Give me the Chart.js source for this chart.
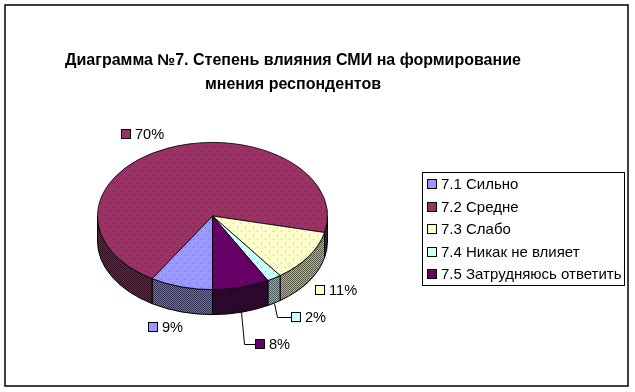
<!DOCTYPE html>
<html>
<head>
<meta charset="utf-8">
<title>Диаграмма №7</title>
<script src="https://cdn.jsdelivr.net/npm/chart.js@4"></script>
<style>
html, body { margin: 0; padding: 0; background: #fff; }
canvas { display: block; }
</style>
</head>
<body>
<canvas id="grafica" width="635" height="392"></canvas>
<script>
const categorias = ['7.1 Сильно', '7.2 Средне', '7.3 Слабо', '7.4 Никак не влияет', '7.5 Затрудняюсь ответить'];
const valores = [8.8, 69.8, 11.4, 2, 8];
const colores = ['#9999ff', '#993366', '#ffffcc', '#ccffff', '#660066'];
const etiquetas = ['9%', '70%', '11%', '2%', '8%'];
const titulo = ['Диаграмма №7. Степень влияния СМИ на формирование', 'мнения респондентов'];

// look of the old 3D pie
const squash = 0.64;
const profundidad = 25;
const fuente = '"Liberation Sans", Arial, sans-serif';

// label swatch offset from the rim point of each slice
const desplazamientos = [[-28, 40], [-42, -14], [12, 33], [22, 39], [19, 57]];
// slices that get a leader line
const conLinea = [false, false, false, true, true];

// dotted fill for the top of the pie
function patronPuntos(color) {
    const c = document.createElement('canvas');
    c.width = 8;
    c.height = 8;
    const g = c.getContext('2d');
    g.fillStyle = color;
    g.fillRect(0, 0, 8, 8);
    g.fillStyle = 'rgba(0,0,0,0.3)';
    g.fillRect(1, 1, 1, 1);
    g.fillRect(5, 5, 1, 1);
    const p = g.createPattern(c, 'repeat');
    p.setTransform(new DOMMatrix().scale(1, 1 / squash));
    return p;
}

// dithered fill for the wall, two darker shades of the slice colour
function patronLado(color) {
    const c = document.createElement('canvas');
    c.width = 2;
    c.height = 2;
    const g = c.getContext('2d');
    g.fillStyle = color;
    g.fillRect(0, 0, 2, 2);
    g.fillStyle = 'rgba(0,0,0,0.3)';
    g.fillRect(0, 0, 2, 2);
    g.fillStyle = 'rgba(0,0,0,0.5)';
    g.fillRect(0, 0, 1, 1);
    g.fillRect(1, 1, 1, 1);
    return g.createPattern(c, 'repeat');
}

const pie3d = {
    id: 'pie3d',
    beforeDatasetsDraw(chart) {
        const ctx = chart.ctx;
        const arcos = chart.getDatasetMeta(0).data;
        const { x: cx, y: cy, outerRadius: r } = arcos[0].getProps(['x', 'y', 'outerRadius'], true);
        const ry = r * squash;

        // front wall, only the part of each slice that faces down
        arcos.forEach((arco, i) => {
            const { startAngle, endAngle } = arco.getProps(['startAngle', 'endAngle'], true);
            [0, 2 * Math.PI].forEach(base => {
                const a0 = Math.max(startAngle, base);
                const a1 = Math.min(endAngle, base + Math.PI);
                if (a1 <= a0) return;
                ctx.beginPath();
                ctx.ellipse(cx, cy, r, ry, 0, a0, a1);
                ctx.ellipse(cx, cy + profundidad, r, ry, 0, a1, a0, true);
                ctx.closePath();
                ctx.fillStyle = patronLado(colores[i]);
                ctx.fill();
                ctx.strokeStyle = '#000';
                ctx.lineWidth = 1;
                ctx.stroke();
            });
        });

        // squash the pie the library draws next
        ctx.save();
        ctx.translate(0, cy);
        ctx.scale(1, squash);
        ctx.translate(0, -cy);
    },
    afterDatasetsDraw(chart) {
        chart.ctx.restore();
    }
};

const textos = {
    id: 'textos',
    afterDraw(chart) {
        const ctx = chart.ctx;
        ctx.save();

        // outer frame
        ctx.strokeStyle = '#000';
        ctx.lineWidth = 1.5;
        ctx.strokeRect(5, 5, 623, 381);

        // title
        ctx.fillStyle = '#000';
        ctx.font = 'bold 16px ' + fuente;
        ctx.textAlign = 'center';
        ctx.textBaseline = 'alphabetic';
        ctx.fillText(titulo[0], 293, 65);
        ctx.fillText(titulo[1], 293, 89);

        // data labels with their small swatches
        const arcos = chart.getDatasetMeta(0).data;
        ctx.font = '14.6px ' + fuente;
        ctx.textAlign = 'left';
        ctx.textBaseline = 'middle';
        ctx.lineWidth = 1;
        arcos.forEach((arco, i) => {
            const p = arco.getProps(['x', 'y', 'startAngle', 'endAngle', 'outerRadius'], true);
            const medio = (p.startAngle + p.endAngle) / 2;
            const bx = p.x + p.outerRadius * Math.cos(medio);
            const by = p.y + p.outerRadius * squash * Math.sin(medio);
            const lx = Math.round(bx + desplazamientos[i][0]);
            const ly = Math.round(by + desplazamientos[i][1]);
            if (conLinea[i]) {
                ctx.beginPath();
                ctx.moveTo(Math.round(bx) + 0.5, Math.round(by + profundidad) + 0.5);
                ctx.lineTo(Math.round(bx) + 3.5, ly + 0.5);
                ctx.lineTo(lx - 5, ly + 0.5);
                ctx.stroke();
            }
            ctx.fillStyle = colores[i];
            ctx.fillRect(lx - 4.5, ly - 4.5, 9, 9);
            ctx.strokeRect(lx - 4.5, ly - 4.5, 9, 9);
            ctx.fillStyle = '#000';
            ctx.fillText(etiquetas[i], lx + 9, ly + 1);
        });

        // legend box
        ctx.font = '15px ' + fuente;
        ctx.fillStyle = '#fff';
        ctx.fillRect(422.5, 172.5, 202, 113);
        ctx.strokeRect(422.5, 172.5, 202, 113);
        categorias.forEach((nombre, i) => {
            const y = 184 + i * 22.6;
            const fy = Math.round(y);
            ctx.fillStyle = colores[i];
            ctx.fillRect(427.5, fy - 4.5, 9, 9);
            ctx.strokeRect(427.5, fy - 4.5, 9, 9);
            ctx.fillStyle = '#000';
            ctx.fillText(nombre, 441, fy + 1);
        });

        ctx.restore();
    }
};

new Chart(document.getElementById('grafica').getContext('2d'), {
    type: 'pie',
    data: {
        labels: categorias,
        datasets: [{
            data: valores,
            backgroundColor: colores.map(patronPuntos),
            borderColor: '#000',
            borderWidth: 1
        }]
    },
    options: {
        responsive: false,
        animation: false,
        rotation: 180,
        layout: { padding: { left: 97, right: 307, top: 100, bottom: 60 } },
        plugins: {
            legend: { display: false },
            title: { display: false },
            tooltip: { enabled: false }
        },
        events: []
    },
    plugins: [pie3d, textos]
});
</script>
</body>
</html>
